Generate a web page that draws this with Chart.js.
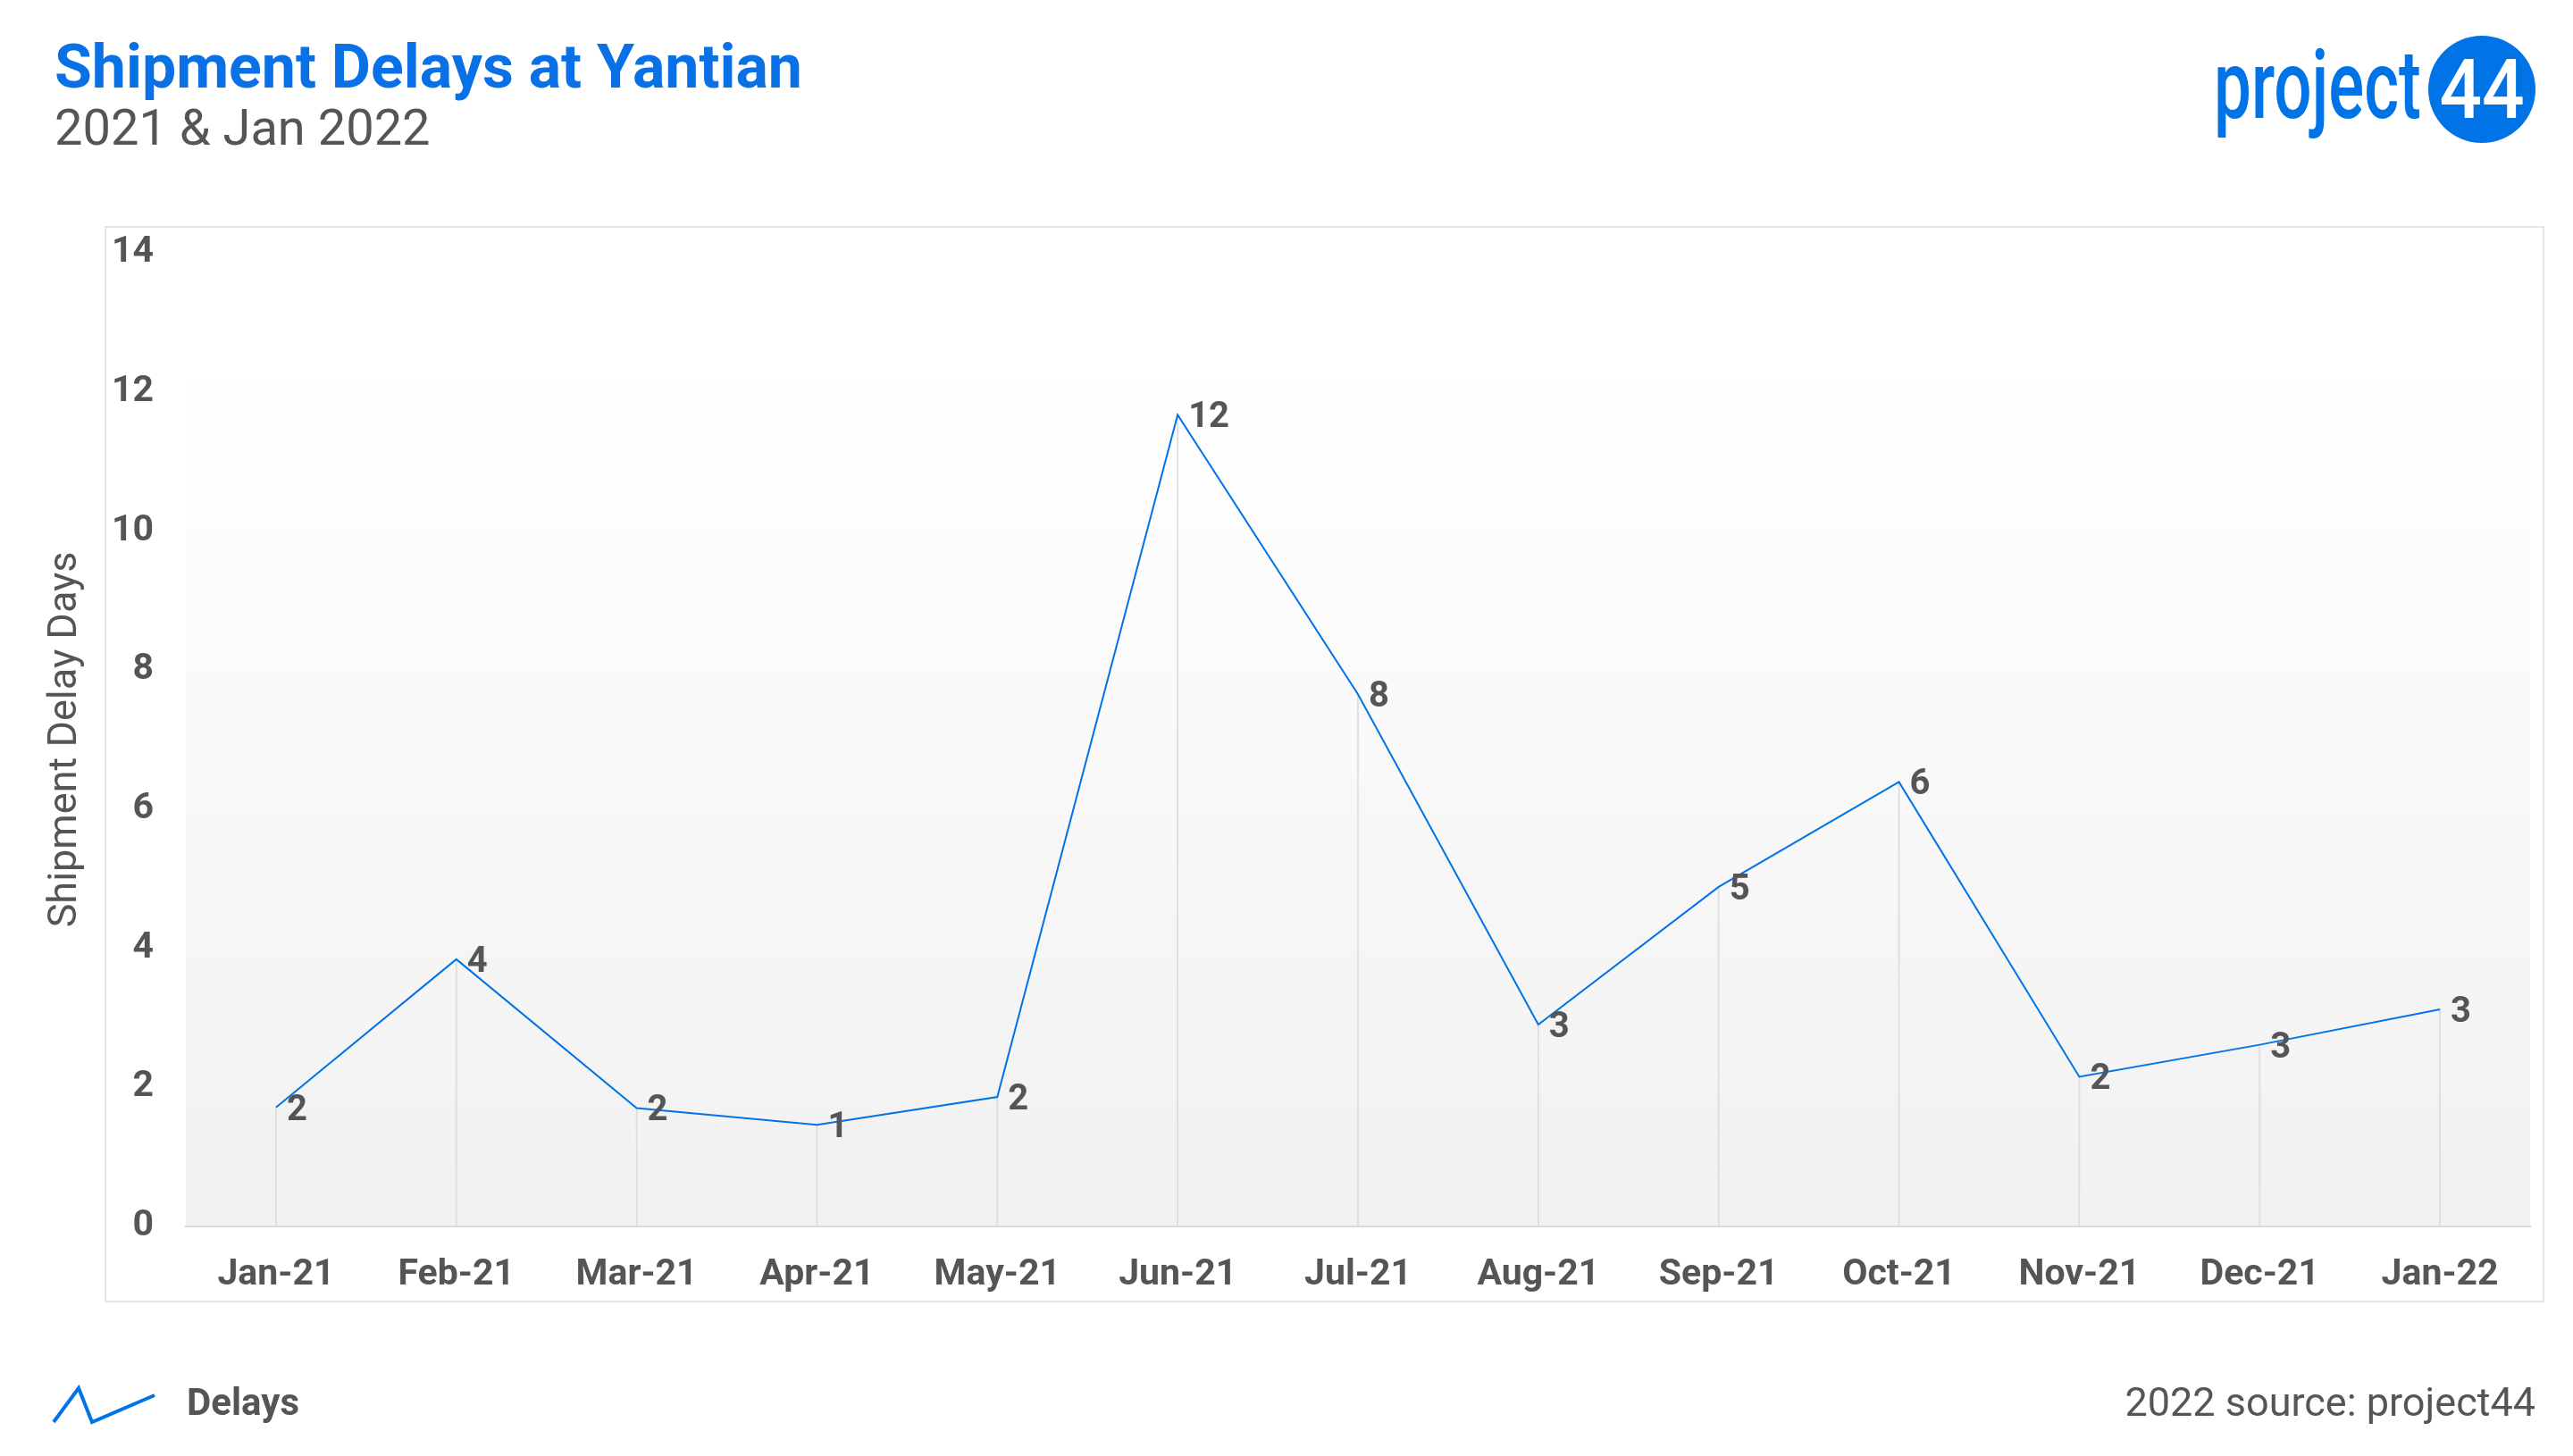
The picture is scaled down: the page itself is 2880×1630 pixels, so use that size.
<!DOCTYPE html>
<html>
<head>
<meta charset="utf-8">
<script src="https://cdn.jsdelivr.net/npm/chart.js@4"></script>
<style>
html,body{margin:0;padding:0;background:#fff;width:2880px;height:1630px;overflow:hidden;font-family:Roboto,"Noto Sans",sans-serif;}
#wrap{position:relative;width:2880px;height:1630px;}
#box{position:absolute;left:117px;top:253px;width:2731px;height:1205px;border:2px solid #e6e6e6;box-sizing:border-box;}
#c{position:absolute;left:0;top:0;}
.t{position:absolute;white-space:nowrap;line-height:1;}
#title{left:61px;top:41px;font-size:68px;font-weight:700;color:#0a70e6;}
#sub{left:61px;top:115px;font-size:56px;font-weight:400;color:#555;}
#source{right:42px;top:1547px;font-size:45px;font-weight:400;color:#555;}
#logoText{left:2478px;top:41px;font-size:108px;font-weight:500;color:#0073e6;transform:scaleX(0.69);transform-origin:left top;}
#logoCircle{position:absolute;left:2718px;top:40px;width:120px;height:120px;border-radius:50%;background:#0073e6;}
#logoNum{left:2718px;width:120px;text-align:center;top:54px;font-size:93px;font-weight:500;color:#fff;transform:scaleX(0.9);transform-origin:center top;}
</style>
</head>
<body>
<div id="wrap">
  <div id="box"></div>
  <canvas id="c" width="2880" height="1630"></canvas>
  <div class="t" id="title">Shipment Delays at Yantian</div>
  <div class="t" id="sub">2021 &amp; Jan 2022</div>
  <div class="t" id="logoText">project</div>
  <div id="logoCircle"></div>
  <div class="t" id="logoNum">44</div>
  <div class="t" id="source">2022 source: project44</div>
</div>
<script>
// ---- data ----
const categories = ['Jan-21','Feb-21','Mar-21','Apr-21','May-21','Jun-21','Jul-21','Aug-21','Sep-21','Oct-21','Nov-21','Dec-21','Jan-22'];
const delays = [1.71, 3.84, 1.70, 1.46, 1.86, 11.67, 7.65, 2.90, 4.88, 6.39, 2.15, 2.61, 3.12];
const seriesName = 'Delays';
const yAxisTitle = 'Shipment Delay Days';
const yMin = 0, yMax = 14, yStep = 2;

// ---- legend icon ----
const icon = document.createElement('canvas');
icon.width = 130; icon.height = 46;
(function(){
  const g = icon.getContext('2d');
  g.strokeStyle = '#0073e6'; g.lineWidth = 4; g.lineJoin = 'miter';
  g.beginPath();
  g.moveTo(2, 42); g.lineTo(30, 4); g.lineTo(45, 42); g.lineTo(115, 12);
  g.stroke();
})();

const bgPlugin = {
  id: 'bgGradient',
  beforeDraw(chart) {
    const {ctx, chartArea: a} = chart;
    const g = ctx.createLinearGradient(0, a.top, 0, a.bottom);
    g.addColorStop(0, '#ffffff');
    g.addColorStop(0.12, '#ffffff');
    g.addColorStop(1, '#f1f1f1');
    ctx.save();
    ctx.fillStyle = g;
    ctx.fillRect(a.left, a.top, a.right - a.left, a.bottom - a.top);
    ctx.restore();
  }
};

const valueLabels = {
  id: 'valueLabels',
  afterDatasetsDraw(chart) {
    const meta = chart.getDatasetMeta(0);
    const ctx = chart.ctx;
    ctx.save();
    ctx.font = 'bold 40px Roboto';
    ctx.fillStyle = '#555';
    ctx.textAlign = 'left';
    ctx.textBaseline = 'alphabetic';
    meta.data.forEach((pt, i) => {
      const v = chart.data.datasets[0].data[i];
      ctx.fillText(String(Math.round(v)), pt.x + 12, pt.y + 14);
    });
    ctx.restore();
  }
};

new Chart(document.getElementById('c'), {
  type: 'line',
  data: {
    labels: categories,
    datasets: [
      {
        type: 'line',
        label: seriesName,
        data: delays,
        borderColor: '#0073e6',
        backgroundColor: '#0073e6',
        borderWidth: 2,
        pointRadius: 0,
        tension: 0,
        fill: false,
        order: 0
      },
      {
        type: 'bar',
        label: 'drop',
        data: delays,
        backgroundColor: '#dcdcdc',
        barThickness: 1,
        order: 1
      }
    ]
  },
  options: {
    responsive: false,
    devicePixelRatio: 1,
    animation: false,
    layout: { padding: { top: 283, left: 30, right: 48, bottom: 26 } },
    plugins: {
      tooltip: { enabled: false },
      legend: {
        display: true,
        position: 'bottom',
        align: 'start',
        labels: {
          usePointStyle: true,
          pointStyle: icon,
          pointStyleWidth: 130,
          padding: 28,
          color: '#555',
          font: { family: 'Roboto', size: 42, weight: 'bold' },
          filter: (item) => item.datasetIndex === 0
        }
      }
    },
    scales: {
      x: {
        type: 'category',
        offset: true,
        grid: { display: false },
        border: { display: true, color: '#d9d9d9', width: 2 },
        ticks: { color: '#555', padding: 22, maxRotation: 0, font: { family: 'Roboto', size: 41, weight: 'bold' } },
        afterFit: (s) => { s.height += 50; }
      },
      y: {
        min: yMin, max: yMax,
        grid: { display: false },
        border: { display: false },
        ticks: { stepSize: yStep, color: '#555', padding: 28, font: { family: 'Roboto', size: 41, weight: 'bold' } },
        title: {
          display: true, text: yAxisTitle, color: '#555',
          font: { family: 'Roboto', size: 45, weight: 'normal' },
          padding: { top: 17, bottom: 24 }
        },
        afterFit: (s) => { s.width = 178; }
      }
    }
  },
  plugins: [bgPlugin, valueLabels]
});
</script>
</body>
</html>
